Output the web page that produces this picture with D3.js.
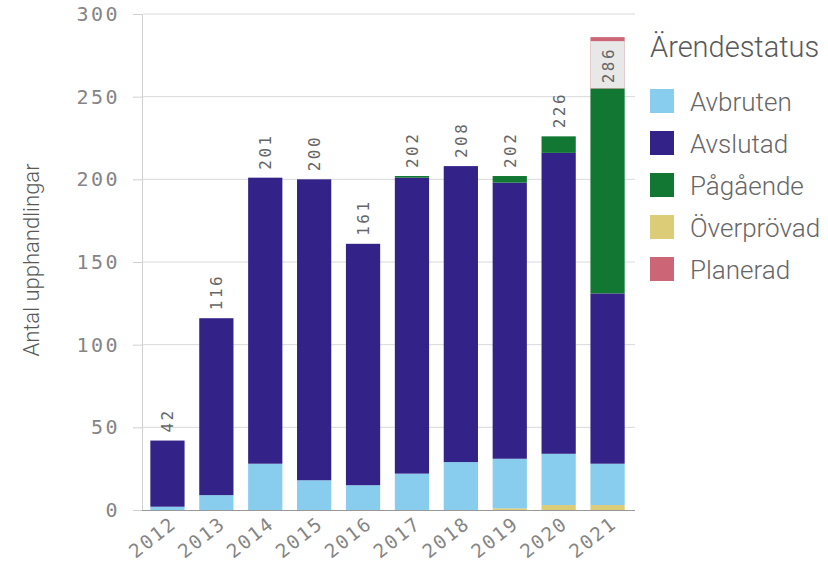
<!DOCTYPE html>
<html>
<head>
<meta charset="utf-8">
<script src="https://cdn.jsdelivr.net/npm/d3@7"></script>
<style>
  body { margin: 0; background: #fff; }
  .tick text { font-family: "DejaVu Sans Mono", monospace; fill: #858585; }
</style>
</head>
<body>
<div id="chart"></div>
<script>
// data
const years = ["2012", "2013", "2014", "2015", "2016", "2017", "2018", "2019", "2020", "2021"];
const statuses = ["Avbruten", "Avslutad", "Pågående", "Överprövad", "Planerad"];
// stack order bottom -> top
const stackOrder = ["Överprövad", "Avbruten", "Avslutad", "Pågående", "Planerad"];
const avbruten   = [2, 9, 28, 18, 15, 22, 29, 30, 31, 25];
const avslutad   = [40, 107, 173, 182, 146, 179, 179, 167, 182, 103];
const pagaende   = [0, 0, 0, 0, 0, 1, 0, 4, 10, 124];
const overprovad = [0, 0, 0, 0, 0, 0, 0, 1, 3, 3];
const planerad   = [0, 0, 0, 0, 0, 0, 0, 0, 0, 31];
const yTicks = [0, 50, 100, 150, 200, 250, 300];
const colors = ["#88ccee", "#332288", "#117733", "#ddcc77", "#cc6677"];

const W = 828, H = 563;
const margin = { top: 14, right: 196, bottom: 53, left: 143 };

const rows = years.map((y, i) => ({
  year: y,
  "Avbruten": avbruten[i],
  "Avslutad": avslutad[i],
  "Pågående": pagaende[i],
  "Överprövad": overprovad[i],
  "Planerad": planerad[i]
}));
rows.forEach(r => r.total = d3.sum(statuses, s => r[s]));

const svg = d3.select("#chart").append("svg")
  .attr("width", W).attr("height", H);

const x = d3.scaleBand()
  .domain(years)
  .range([margin.left, W - margin.right])
  .paddingInner(0.3)
  .paddingOuter(0.15);
const y = d3.scaleLinear()
  .domain([0, 300])
  .range([H - margin.bottom, margin.top]);
const color = d3.scaleOrdinal().domain(statuses).range(colors);

// gridlines
svg.append("g")
  .selectAll("line")
  .data(yTicks.slice(1))
  .join("line")
  .attr("x1", margin.left).attr("x2", W - margin.right + 3)
  .attr("y1", d => y(d)).attr("y2", d => y(d))
  .attr("stroke", "#d9d9d9");

// y axis
const yAxis = svg.append("g")
  .attr("transform", `translate(${margin.left - 1},0)`)
  .call(d3.axisLeft(y).tickValues(yTicks).tickSize(9).tickPadding(13));
yAxis.select(".domain").attr("stroke", "#d0d0d0");
yAxis.selectAll(".tick line").attr("stroke", "#d0d0d0");
yAxis.selectAll(".tick text")
  .attr("font-size", 20)
  .attr("letter-spacing", 2.5);

svg.append("text")
  .attr("transform", `translate(39,260) rotate(-90)`)
  .attr("text-anchor", "middle")
  .attr("font-family", "Roboto, sans-serif")
  .attr("font-weight", 300)
  .attr("font-size", 22)
  .attr("fill", "#595959")
  .text("Antal upphandlingar");

// bars
const series = d3.stack().keys(stackOrder)(rows);
svg.append("g")
  .selectAll("g")
  .data(series)
  .join("g")
  .attr("fill", d => color(d.key))
  .selectAll("rect")
  .data(d => d.filter(p => p[1] > p[0]))
  .join("rect")
  .attr("x", d => x(d.data.year))
  .attr("width", x.bandwidth())
  .attr("y", d => y(d[1]))
  .attr("height", d => y(d[0]) - y(d[1]));

// x axis
const xAxis = svg.append("g")
  .attr("transform", `translate(0,${y(0)})`)
  .call(d3.axisBottom(x).tickSize(0).tickPadding(6));
xAxis.select(".domain").attr("stroke", "#999").attr("d", `M${margin.left - 1},0.5H${W - margin.right + 3}`);
xAxis.selectAll(".tick text")
  .attr("font-size", 19)
  .attr("letter-spacing", 2)
  .attr("text-anchor", "end")
  .attr("dy", "0.75em")
  .attr("transform", "translate(-2,0) rotate(-38)");

// total labels
const labels = svg.append("g")
  .attr("font-family", "DejaVu Sans Mono, monospace")
  .attr("font-size", 16)
  .attr("letter-spacing", 2.5)
  .attr("fill", "#666");
rows.forEach(r => {
  const cx = x(r.year) + x.bandwidth() / 2;
  const top = y(r.total);
  if (top - 45 < margin.top) {
    // no room above: label sits inside the bar on a grey box
    const boxTop = top + 4;
    labels.append("rect")
      .attr("x", x(r.year))
      .attr("y", boxTop)
      .attr("width", x.bandwidth())
      .attr("height", 47)
      .attr("fill", "#e8e8e8");
    labels.append("text")
      .attr("transform", `translate(${cx + 6},${boxTop + 24}) rotate(-90)`)
      .attr("text-anchor", "middle")
      .text(r.total);
  } else {
    labels.append("text")
      .attr("transform", `translate(${cx + 6},${top - 8}) rotate(-90)`)
      .attr("text-anchor", "start")
      .text(r.total);
  }
});

// legend
const lg = svg.append("g").attr("transform", "translate(650,0)");
lg.append("text")
  .attr("x", 0).attr("y", 57)
  .attr("font-family", "Roboto, sans-serif")
  .attr("font-weight", 300)
  .attr("font-size", 29)
  .attr("fill", "#595959")
  .text("Ärendestatus");
const item = lg.selectAll("g.item")
  .data(statuses)
  .join("g")
  .attr("class", "item")
  .attr("transform", (d, i) => `translate(0,${101 + i * 42})`);
item.append("rect")
  .attr("x", 0).attr("y", -12)
  .attr("width", 24).attr("height", 24)
  .attr("fill", d => color(d));
item.append("text")
  .attr("x", 40).attr("y", 1)
  .attr("dy", "0.35em")
  .attr("font-family", "Roboto, sans-serif")
  .attr("font-weight", 300)
  .attr("font-size", 26)
  .attr("fill", "#666")
  .text(d => d);
</script>
</body>
</html>
